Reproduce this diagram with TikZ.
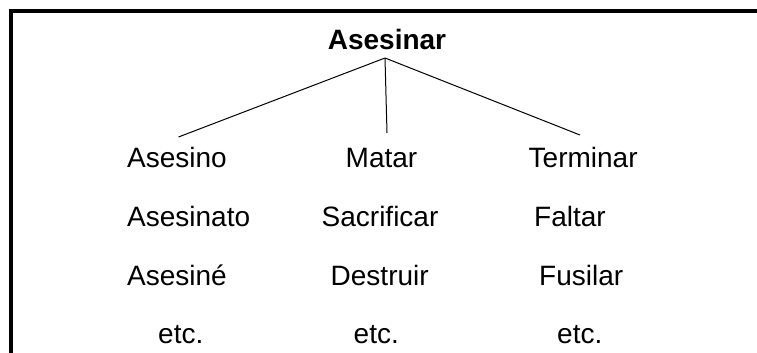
\documentclass[tikz,border=0pt]{standalone}
\usepackage{fontspec}
\setmainfont{Liberation Sans}
\begin{document}
\begin{tikzpicture}[x=1pt,y=-1pt,
  word/.style={anchor=base west,inner sep=0pt,font=\fontsize{28}{34}\selectfont},
  title/.style={anchor=base,inner sep=0pt,font=\fontsize{28}{34}\selectfont\bfseries},
  branch/.style={line width=1pt,black},
  frame/.style={line width=4pt,black}]
\useasboundingbox (0,0) rectangle (757,353);
% frame (top and left edges)
\coordinate (fl) at (10.5,353);
\coordinate (fc) at (10.5,11.5);
\coordinate (fr) at (757,11.5);
\draw[frame] (fl) -- (fc) -- (fr);
% title
\node[title] (root) at (387,50) {Asesinar};
\coordinate (apex) at (385,58);
% column 1
\node[word] (a1) at (127,167) {Asesino};
\node[word] (a2) at (127,226.5) {Asesinato};
\node[word] (a3) at (127,285.5) {Asesiné};
\node[word] (a4) at (158,343) {etc.};
% column 2
\node[word] (b1) at (345.5,167) {Matar};
\node[word] (b2) at (321.5,226.5) {Sacrificar};
\node[word] (b3) at (330.5,285.5) {Destruir};
\node[word] (b4) at (353.5,343) {etc.};
% column 3
\node[word] (c1) at (528.5,167) {Terminar};
\node[word] (c2) at (534,226.5) {Faltar};
\node[word] (c3) at (539,285.5) {Fusilar};
\node[word] (c4) at (557,343) {etc.};
% connector ends
\coordinate (ea) at (178.5,137);
\coordinate (eb) at (387,133);
\coordinate (ec) at (580,135);
\draw[branch] (apex) -- (ea);
\draw[branch] (apex) -- (eb);
\draw[branch] (apex) -- (ec);
\end{tikzpicture}
\end{document}
